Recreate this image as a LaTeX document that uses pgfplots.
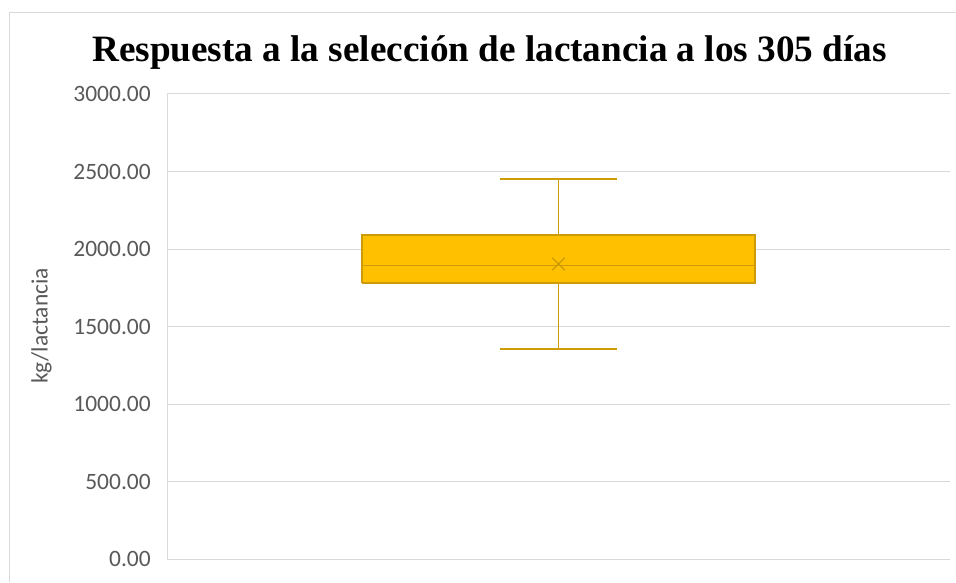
\documentclass[border=0pt]{standalone}
\usepackage{fontspec}
\setmainfont{Carlito}
\newfontfamily\titlefont{Liberation Serif}
\usepackage{pgfplots}
\pgfplotsset{compat=1.18}
\definecolor{gridgrey}{HTML}{D9D9D9}
\definecolor{ticktext}{HTML}{595959}
\definecolor{boxfill}{HTML}{FFC000}
\definecolor{boxedge}{RGB}{205,155,5}
\begin{document}
\begin{tikzpicture}
\useasboundingbox (0pt,0pt) rectangle (717pt,436.5pt);
% chart area frame (partially visible)
\draw[gridgrey, line width=1pt] (7.1pt,0pt) -- (7.1pt,427.1pt) -- (717pt,427.1pt);
\begin{axis}[
  at={(125.25pt,17.25pt)}, anchor=south west,
  scale only axis,
  width=587.25pt, height=348.75pt,
  xmin=0, xmax=1,
  ymin=0, ymax=3000,
  ytick={0,500,1000,1500,2000,2500,3000},
  xtick=\empty,
  ymajorgrids,
  grid style={draw=gridgrey, line width=0.75pt},
  axis lines*=left,
  axis line style={draw=gridgrey, line width=0.75pt},
  major tick length=0pt,
  tick style={draw=none},
  clip=false,
  yticklabel={\pgfmathprintnumber[fixed, fixed zerofill, precision=2, 1000 sep={}, assume math mode=true]{\tick}},
  yticklabel style={font=\fontsize{17.6}{21}\selectfont, text=ticktext, inner sep=0pt, xshift=-12pt},
]
% box (lower quartile 1781, upper quartile 2090)
\addplot[draw=boxedge, fill=boxfill, line width=1.3pt] coordinates {(0.249,1781) (0.751,1781) (0.751,2090) (0.249,2090) (0.249,1781)};
% median
\addplot[draw=boxedge, line width=1.1pt] coordinates {(0.249,1895) (0.751,1895)};
% upper whisker
\addplot[draw=boxedge, line width=1.1pt] coordinates {(0.5,2090) (0.5,2451)};
\addplot[draw=boxedge, line width=1.1pt] coordinates {(0.4255,2451) (0.5745,2451)};
% lower whisker
\addplot[draw=boxedge, line width=1.1pt] coordinates {(0.5,1781) (0.5,1354)};
\addplot[draw=boxedge, line width=1.1pt] coordinates {(0.4255,1354) (0.5745,1354)};
% mean
\addplot[only marks, mark=x, mark size=6.6pt, draw=boxedge, mark options={line width=1pt}] coordinates {(0.5,1903)};
\end{axis}
\node[anchor=base, inner sep=0pt] at (367.1pt,390pt) {\titlefont\bfseries\fontsize{27.9}{33}\selectfont Respuesta a la selección de lactancia a los 305 días};
\node[rotate=90, inner sep=0pt, text=ticktext] at (31.1pt,192pt) {\fontsize{17.6}{21}\selectfont kg/lactancia};
\end{tikzpicture}
\end{document}
